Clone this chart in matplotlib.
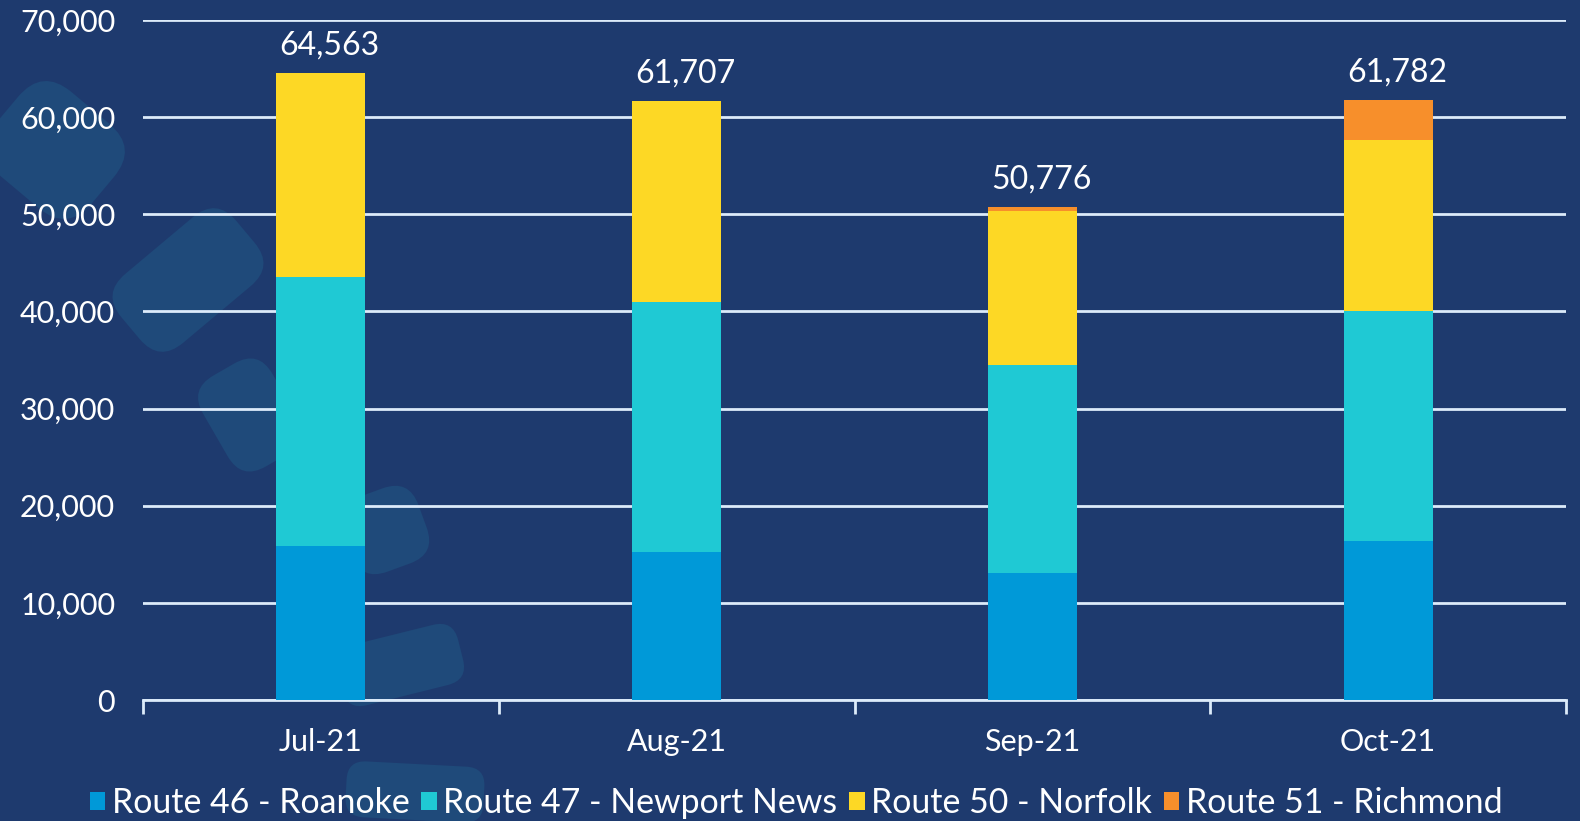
import numpy as np
import matplotlib.pyplot as plt
from matplotlib.patches import FancyBboxPatch, Patch
from matplotlib.transforms import Affine2D

months = ['Jul-21', 'Aug-21', 'Sep-21', 'Oct-21']
routes = ['Route 46 - Roanoke', 'Route 47 - Newport News',
          'Route 50 - Norfolk', 'Route 51 - Richmond']
route46 = [15870, 15240, 13070, 16380]
route47 = [27680, 25720, 21460, 23650]
route50 = [21013, 20747, 15800, 17630]
route51 = [0, 0, 446, 4122]
totals = ['64,563', '61,707', '50,776', '61,782']

colors = ['#0099D8', '#1FC9D4', '#FDD825', '#F78F2B']
bg = '#1E3A6E'
light = '#DCEBFA'

plt.rcParams['font.family'] = ['Lato', 'DejaVu Sans']

W, H = 1580, 821
fig = plt.figure(figsize=(W / 100, H / 100), dpi=100)
fig.patch.set_facecolor(bg)

# faded background shapes (pixel coords, y from top)
blobs = [(55, 150, 125, 110, -40), (188, 280, 150, 90, 40),
         (250, 415, 80, 105, 30), (385, 530, 80, 80, 20),
         (400, 665, 125, 62, 14), (415, 792, 138, 56, -3)]
for cx, cy, bw, bh, ang in blobs:
    cyb = H - cy
    p = FancyBboxPatch((cx - bw / 2, cyb - bh / 2), bw, bh,
                       boxstyle='round,pad=0,rounding_size=%d' % (min(bw, bh) * 0.35),
                       facecolor='#1F4A7A', edgecolor='none', zorder=-5,
                       transform=Affine2D().rotate_deg_around(cx, cyb, ang)
                       .scale(1 / W, 1 / H) + fig.transFigure)
    fig.patches.append(p)

ax = fig.add_axes([143 / W, 121 / H, 1423 / W, 680 / H])
ax.set_facecolor('none')

x = np.arange(len(months))
series = [route46, route47, route50, route51]
bottom = np.zeros(len(months))
for vals, c, name in zip(series, colors, routes):
    ax.bar(x, vals, width=0.25, bottom=bottom, color=c, label=name, zorder=3)
    bottom += np.array(vals)

for xi, top, lab in zip(x, bottom, totals):
    ax.annotate(lab, (xi + 0.025, top), xytext=(0, 9), textcoords='offset points',
                ha='center', va='bottom', color='white', fontsize=23)

ax.set_xlim(-0.5, 3.5)
ax.set_ylim(0, 70000)
ax.set_yticks(np.arange(0, 70001, 10000))
ax.set_yticklabels(['{:,}'.format(v) for v in range(0, 70001, 10000)])
ax.set_xticks(x)
ax.set_xticklabels(months)
ax.set_xticks(np.arange(-0.5, 3.6, 1), minor=True)
ax.tick_params(axis='x', which='major', length=0, pad=20, labelsize=22, labelcolor='white')
ax.tick_params(axis='x', which='minor', length=10, width=2, color=light, direction='out')
ax.tick_params(axis='y', length=0, pad=20, labelsize=22, labelcolor='white')
ax.grid(axis='y', color=light, linewidth=2, zorder=1)
for s in ['top', 'right', 'left']:
    ax.spines[s].set_visible(False)
ax.spines['bottom'].set_color(light)
ax.spines['bottom'].set_linewidth(2)

handles = [Patch(facecolor=c, label=n) for c, n in zip(colors, routes)]
fig.legend(handles=handles, loc='center', bbox_to_anchor=(0.504, 18 / H), ncol=4,
           frameon=False, fontsize=24.4, labelcolor='white', handlelength=0.45,
           handleheight=0.45, handletextpad=0.2, columnspacing=0.35)

fig.savefig('out.png', dpi=100, facecolor=bg)
